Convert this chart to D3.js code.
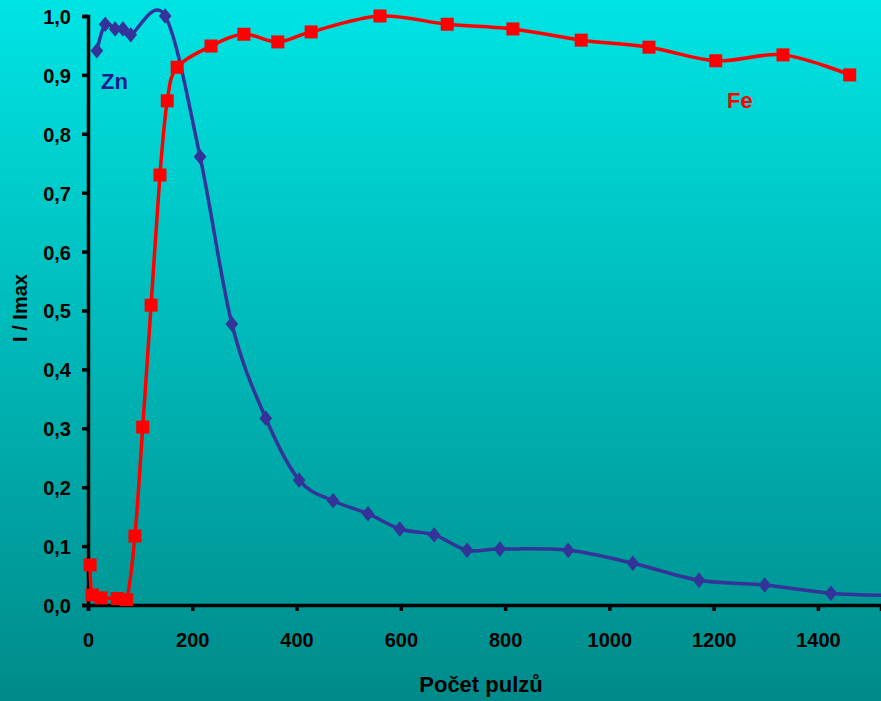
<!DOCTYPE html>
<html>
<head>
<meta charset="utf-8">
<script src="https://cdn.jsdelivr.net/npm/d3@7"></script>
<style>
  html, body { margin: 0; padding: 0; overflow: hidden; }
  svg { display: block; font-family: "Liberation Sans", Arial, sans-serif; }
</style>
</head>
<body>
<svg id="chart"></svg>
<script>
// data
let znX = [17, 33, 52, 67, 82, 148, 215, 276, 341, 405, 470, 537, 598, 664, 727, 790, 921, 1045, 1172, 1298, 1425, 1560];
let znY = [0.941, 0.986, 0.978, 0.978, 0.968, 1.0, 0.761, 0.477, 0.317, 0.212, 0.177, 0.155, 0.129, 0.119, 0.093, 0.095, 0.093, 0.071, 0.042, 0.034, 0.020, 0.016];
let feX = [4, 8, 25, 56, 74, 90, 105, 121, 138, 152, 171, 236, 299, 364, 428, 560, 689, 815, 946, 1076, 1204, 1333, 1461];
let feY = [0.068, 0.017, 0.012, 0.011, 0.009, 0.117, 0.302, 0.509, 0.730, 0.856, 0.913, 0.949, 0.969, 0.956, 0.973, 1.0, 0.986, 0.978, 0.959, 0.947, 0.924, 0.934, 0.900];
let xTicks = [0, 200, 400, 600, 800, 1000, 1200, 1400];
let yTicks = [0, 0.1, 0.2, 0.3, 0.4, 0.5, 0.6, 0.7, 0.8, 0.9, 1.0];

let width = 881,
    height = 701,
    plotLeft = 88,
    plotTop = 16,
    plotBottom = 605;

let svg = d3.select("#chart").attr("width", width).attr("height", height);

// background gradient
let defs = svg.append("defs");
let grad = defs.append("linearGradient")
    .attr("id", "bg").attr("x1", 0).attr("y1", 0).attr("x2", 0).attr("y2", 1);
grad.append("stop").attr("offset", "0%").attr("stop-color", "#00e4e4");
grad.append("stop").attr("offset", "100%").attr("stop-color", "#008a8a");
defs.append("clipPath").attr("id", "clip")
    .append("rect").attr("x", 0).attr("y", 0).attr("width", width).attr("height", height);
svg.append("rect").attr("width", width).attr("height", height).attr("fill", "url(#bg)");

let x = d3.scaleLinear().domain([0, 1521]).range([plotLeft, width]);
let y = d3.scaleLinear().domain([0, 1]).range([plotBottom, plotTop]);

// axes
let xAxis = svg.append("g")
    .attr("transform", "translate(0," + plotBottom + ")")
    .call(d3.axisBottom(x).tickValues(xTicks).tickSize(6).tickPadding(22).tickFormat(d3.format("d")));
let yAxis = svg.append("g")
    .attr("transform", "translate(" + plotLeft + ",0)")
    .call(d3.axisLeft(y).tickValues(yTicks).tickSize(6).tickPadding(11)
        .tickFormat(function (d) { return d3.format(".1f")(d).replace(".", ","); }));

[xAxis, yAxis].forEach(function (g) {
    g.select(".domain").attr("stroke", "#000").attr("stroke-width", 3.5);
    g.selectAll(".tick line").attr("stroke", "#000").attr("stroke-width", 3.5);
    g.selectAll(".tick text").attr("fill", "#000").attr("font-size", 20)
        .attr("font-weight", "bold").attr("font-family", "Liberation Sans, Arial, sans-serif");
});
yAxis.selectAll(".tick text").attr("dy", "0.37em");

// axis titles
svg.append("text")
    .attr("x", 481).attr("y", 692)
    .attr("text-anchor", "middle")
    .attr("font-size", 22).attr("font-weight", "bold")
    .text("Počet pulzů");
svg.append("text")
    .attr("transform", "translate(27,308) rotate(-90)")
    .attr("text-anchor", "middle")
    .attr("font-size", 20).attr("font-weight", "bold")
    .text("I / Imax");

let plot = svg.append("g").attr("clip-path", "url(#clip)");

let line = d3.line()
    .x(function (d) { return x(d[0]); })
    .y(function (d) { return y(d[1]); })
    .curve(d3.curveCardinal.tension(0));

let zn = znX.map(function (v, i) { return [v, znY[i]]; });
let fe = feX.map(function (v, i) { return [v, feY[i]]; });

plot.append("path").datum(zn)
    .attr("d", line).attr("fill", "none")
    .attr("stroke", "#333399").attr("stroke-width", 3.5);
plot.append("path").datum(fe)
    .attr("d", line).attr("fill", "none")
    .attr("stroke", "#ff0000").attr("stroke-width", 3.5);

// markers
plot.selectAll(".zn").data(zn).enter().append("path")
    .attr("class", "zn")
    .attr("d", d3.symbol().type(d3.symbolDiamond2).size(125))
    .attr("transform", function (d) { return "translate(" + x(d[0]) + "," + y(d[1]) + ") scale(0.9,1.1)"; })
    .attr("fill", "#333399");
plot.selectAll(".fe").data(fe).enter().append("rect")
    .attr("class", "fe")
    .attr("x", function (d) { return x(d[0]) - 6.5; })
    .attr("y", function (d) { return y(d[1]) - 6.5; })
    .attr("width", 13).attr("height", 13)
    .attr("fill", "#ff0000");

// series labels
svg.append("text").attr("x", 101).attr("y", 89)
    .attr("font-size", 22).attr("font-weight", "bold").attr("fill", "#1a1a8c")
    .text("Zn");
svg.append("text").attr("x", 727).attr("y", 108)
    .attr("font-size", 22).attr("font-weight", "bold").attr("fill", "#ff0000")
    .text("Fe");
</script>
</body>
</html>
